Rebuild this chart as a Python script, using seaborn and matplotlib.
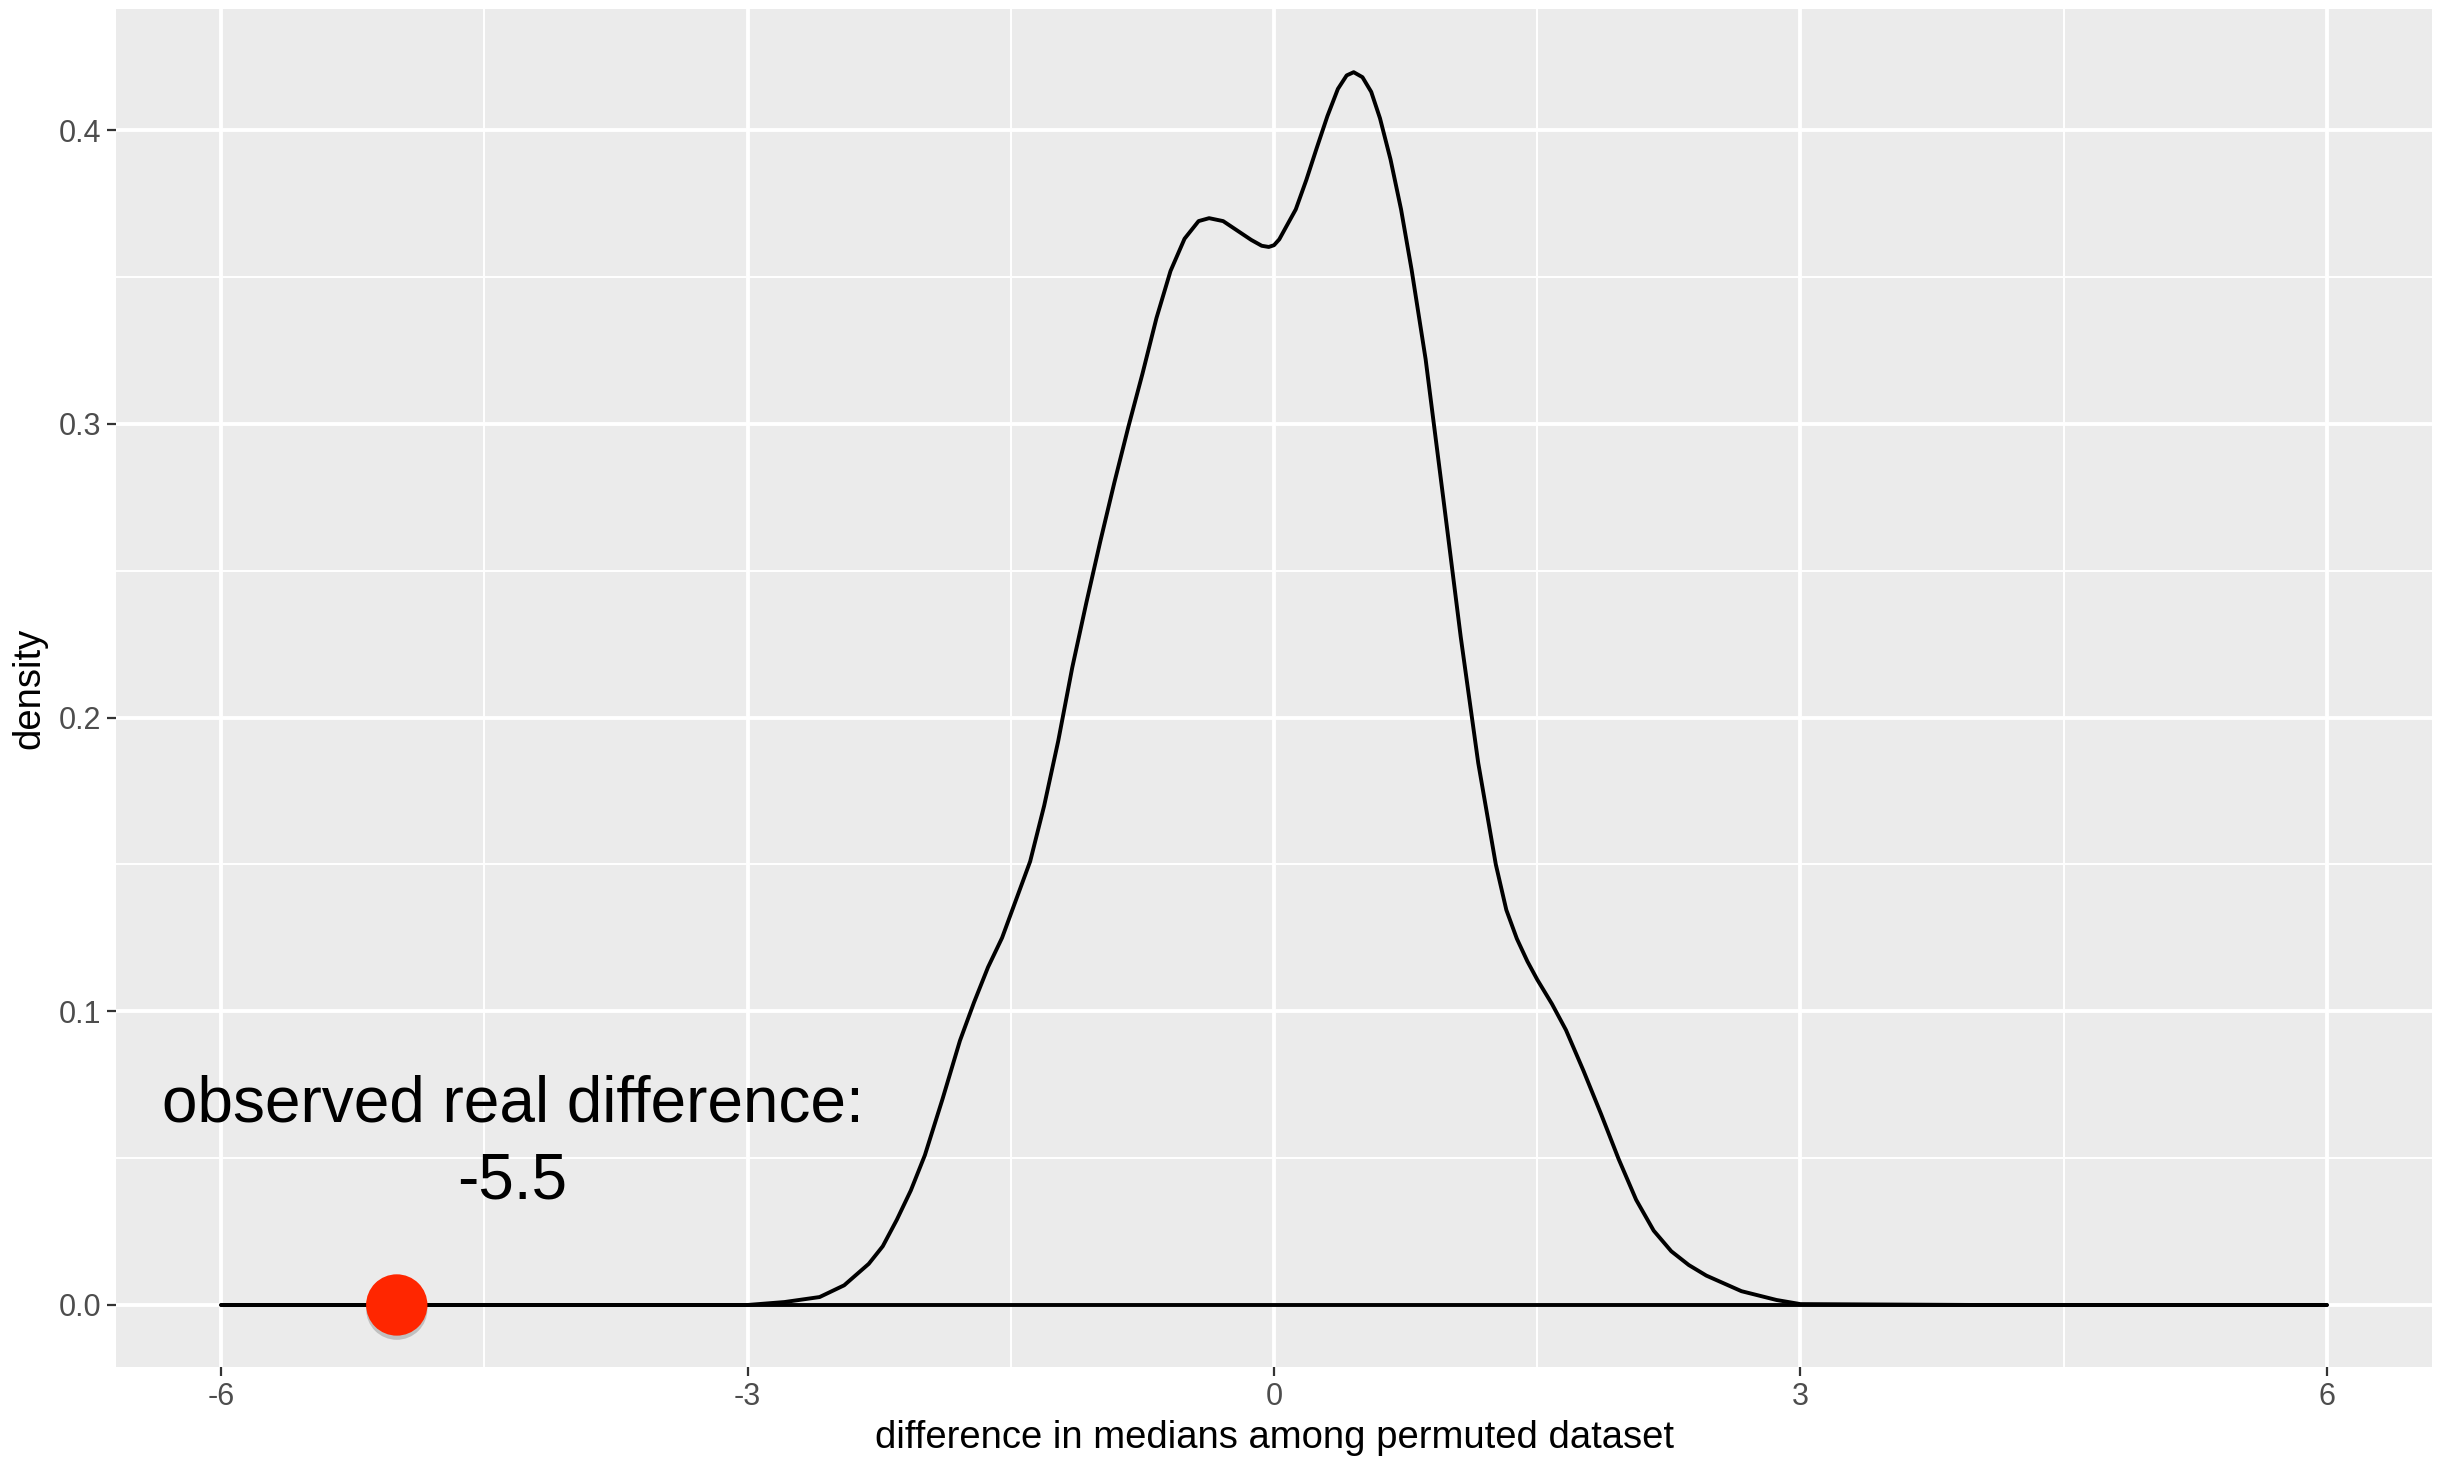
import numpy as np
import pandas as pd
import seaborn as sns
import matplotlib.pyplot as plt
import matplotlib.patheffects as pe

# density curve
curve_x = [-6.0, -4.0, -3.0, -2.79, -2.59, -2.45, -2.31, -2.23, -2.15, -2.07, -1.99,
           -1.89, -1.79, -1.71, -1.63, -1.55, -1.47, -1.39, -1.31, -1.23, -1.15,
           -1.07, -0.99, -0.91, -0.83, -0.75, -0.67, -0.59, -0.51, -0.43, -0.37,
           -0.29, -0.19, -0.13, -0.07, -0.03, 0.0, 0.03, 0.064, 0.124, 0.184, 0.244, 0.304,
           0.364, 0.414, 0.454, 0.504, 0.554, 0.604, 0.664, 0.724, 0.784, 0.864,
           0.964, 1.064, 1.164, 1.264, 1.324, 1.384, 1.444, 1.5, 1.584, 1.664,
           1.764, 1.864, 1.964, 2.064, 2.164, 2.264, 2.364, 2.464, 2.664, 2.864,
           3.0, 4.0, 6.0]
curve_y = [0.0, 0.0, 0.0, 0.001, 0.0027, 0.0067, 0.014, 0.020, 0.029, 0.039, 0.051,
           0.070, 0.090, 0.103, 0.115, 0.125, 0.138, 0.151, 0.170, 0.192, 0.217,
           0.239, 0.260, 0.280, 0.299, 0.317, 0.336, 0.352, 0.363, 0.369, 0.370,
           0.369, 0.365, 0.3626, 0.3606, 0.3602, 0.3608, 0.3628, 0.3665, 0.373, 0.383, 0.394, 0.4047,
           0.414, 0.4186, 0.4197, 0.418, 0.413, 0.404, 0.390, 0.373, 0.3525, 0.322,
           0.275, 0.2275, 0.1845, 0.150, 0.1345, 0.1247, 0.117, 0.1108, 0.1025, 0.0936,
           0.0797, 0.065, 0.0497, 0.0358, 0.0253, 0.0183, 0.0136, 0.010, 0.0047, 0.0017,
           0.0003, 0.0, 0.0]

baseline_x = [-6.0, 6.0]
baseline_y = [0.0, 0.0]

observed_x = [-5.0]
observed_y = [0.0]
label_line1 = "observed real difference:"
label_line2 = "-5.5"
label_x = -4.34
label_y1 = 0.0626
label_y2 = 0.0361

x_ticks = [-6, -3, 0, 3, 6]
y_ticks = [0.0, 0.1, 0.2, 0.3, 0.4]
y_ticklabels = ["0.0", "0.1", "0.2", "0.3", "0.4"]

sns.set_theme(style="darkgrid", rc={
    "axes.facecolor": "#EBEBEB",
    "grid.color": "white",
    "axes.edgecolor": "none",
})
plt.rcParams["font.family"] = ["Liberation Sans", "DejaVu Sans"]

fig = plt.figure(figsize=(24.43, 14.57), dpi=100)
ax = fig.add_axes([0.0475, 0.0618, 0.948, 0.932])

df_curve = pd.DataFrame({"x": curve_x, "y": curve_y})
df_base = pd.DataFrame({"x": baseline_x, "y": baseline_y})

sns.lineplot(data=df_base, x="x", y="y", ax=ax, color="black", linewidth=2.8,
             sort=False, estimator=None)
sns.lineplot(data=df_curve, x="x", y="y", ax=ax, color="black", linewidth=2.8,
             sort=False, estimator=None, solid_joinstyle="round")

sns.scatterplot(x=observed_x, y=observed_y, ax=ax, s=1950, color="#FF2600",
                edgecolor="none", zorder=5,
                path_effects=[pe.SimplePatchShadow(offset=(0, -3), shadow_rgbFace="black", alpha=0.18),
                              pe.Normal()])

# annotation
ax.text(label_x, label_y1, label_line1, ha="center", va="baseline", fontsize=46,
        color="black")
ax.text(label_x, label_y2, label_line2, ha="center", va="baseline", fontsize=46,
        color="black")

ax.set_xlim(-6.6, 6.6)
ax.set_ylim(-0.0211, 0.4412)
ax.set_xticks(x_ticks)
ax.set_xticklabels([str(t) for t in x_ticks])
ax.set_yticks(y_ticks)
ax.set_yticklabels(y_ticklabels)
ax.set_xticks([-4.5, -1.5, 1.5, 4.5], minor=True)
ax.set_yticks([0.05, 0.15, 0.25, 0.35], minor=True)
ax.grid(which="major", color="white", linewidth=2.8)
ax.grid(which="minor", color="white", linewidth=1.4)

ax.tick_params(axis="both", which="major", length=6.5, width=1.6, color="#333333",
               labelsize=22, labelcolor="#4D4D4D", pad=4, bottom=True, left=True)
ax.tick_params(axis="both", which="minor", length=0)

ax.set_xlabel("difference in medians among permuted dataset", fontsize=27.5, color="black", labelpad=6)
ax.set_ylabel("density", fontsize=27.5, color="black", labelpad=8)

for s in ax.spines.values():
    s.set_visible(False)

fig.savefig("out.png", dpi=100, facecolor="white")
